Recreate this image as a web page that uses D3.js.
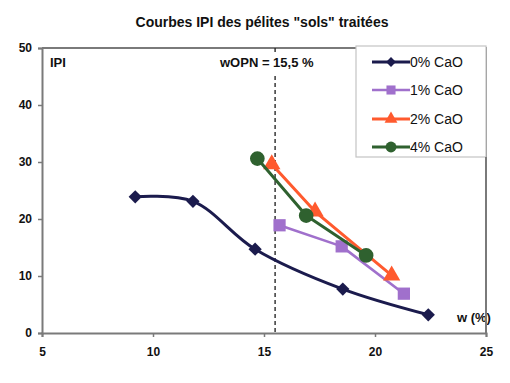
<!DOCTYPE html>
<html>
<head>
<meta charset="utf-8">
<script src="https://cdn.jsdelivr.net/npm/d3@7"></script>
<style>
  html, body { margin: 0; padding: 0; background: #fff; }
  svg { display: block; font-family: "Liberation Sans", Arial, sans-serif; }
</style>
</head>
<body>
<svg id="chart" width="510" height="383"></svg>
<script>
// Water content w (%) and IPI readings per lime dosage
const series0Name = "0% CaO";
const series0W = [9.2, 11.8, 14.6, 18.55, 22.4];
const series0IPI = [23.9, 23.1, 14.7, 7.7, 3.2];

const series1Name = "1% CaO";
const series1W = [15.7, 18.5, 21.3];
const series1IPI = [18.9, 15.2, 6.9];

const series2Name = "2% CaO";
const series2W = [15.35, 17.3, 20.75];
const series2IPI = [29.6, 21.3, 10.1];

const series4Name = "4% CaO";
const series4W = [14.7, 16.9, 19.6];
const series4IPI = [30.6, 20.6, 13.6];

const xTicks = [5, 10, 15, 20, 25];
const yTicks = [0, 10, 20, 30, 40, 50];
const wOPN = 15.5;

const titleText = "Courbes IPI des pélites \"sols\" traitées";
const yLabel = "IPI";
const xLabel = "w (%)";
const wOPNLabel = "wOPN = 15,5 %";

const svg = d3.select("#chart");
const plotLeft = 42, plotRight = 486, plotTop = 48, plotBottom = 333;

const x = d3.scaleLinear().domain([5, 25]).range([plotLeft, plotRight]);
const y = d3.scaleLinear().domain([0, 50]).range([plotBottom, plotTop]);

// title
svg.append("text")
  .attr("x", 262).attr("y", 27)
  .attr("text-anchor", "middle")
  .attr("font-size", 14).attr("font-weight", "bold")
  .attr("fill", "#111")
  .text(titleText);

const axisColor = "#7a7a7a";

// plot frame (top and right sides)
svg.append("path")
  .attr("d", `M${plotLeft},${plotTop}H${plotRight}V${plotBottom}`)
  .attr("fill", "none").attr("stroke", axisColor).attr("stroke-width", 2);

// axes
const yAxis = d3.axisLeft(y).tickValues(yTicks).tickSize(4).tickPadding(6);
const xAxis = d3.axisBottom(x).tickValues(xTicks).tickSize(4).tickPadding(10);

const gy = svg.append("g").attr("transform", `translate(${plotLeft},0)`).call(yAxis);
const gx = svg.append("g").attr("transform", `translate(0,${plotBottom})`).call(xAxis);
[gx, gy].forEach(g => {
  g.select(".domain").attr("stroke", axisColor).attr("stroke-width", 2);
  g.selectAll(".tick line").attr("stroke", axisColor).attr("stroke-width", 1.5);
  g.selectAll(".tick text")
    .attr("font-size", 12).attr("font-weight", "bold")
    .attr("font-family", "'Liberation Sans', Arial, sans-serif")
    .attr("fill", "#111");
});

// optimum water content marker
svg.append("line")
  .attr("x1", x(wOPN)).attr("x2", x(wOPN))
  .attr("y1", plotTop).attr("y2", plotBottom)
  .attr("stroke", "#2a2a2a").attr("stroke-width", 1.4)
  .attr("stroke-dasharray", "4,3");

svg.append("rect")
  .attr("x", 218).attr("y", 52).attr("width", 106).attr("height", 22)
  .attr("fill", "#fff");
svg.append("text")
  .attr("x", 220).attr("y", 67)
  .attr("font-size", 13).attr("font-weight", "bold").attr("fill", "#111")
  .text(wOPNLabel);

svg.append("text")
  .attr("x", 50).attr("y", 67)
  .attr("font-size", 13).attr("font-weight", "bold").attr("fill", "#111")
  .text(yLabel);

svg.append("text")
  .attr("x", 457).attr("y", 322)
  .attr("font-size", 13).attr("font-weight", "bold").attr("fill", "#111")
  .text(xLabel);

// series definitions (diamond = square turned 45°)
const seriesList = [
  { name: series0Name, w: series0W, v: series0IPI, color: "#1b1b4d", sym: d3.symbolSquare, rot: 45, size: 88, width: 3, curve: d3.curveCatmullRom.alpha(0.5) },
  { name: series1Name, w: series1W, v: series1IPI, color: "#a070cc", sym: d3.symbolSquare, rot: 0, size: 150, width: 2.6, curve: d3.curveLinear },
  { name: series2Name, w: series2W, v: series2IPI, color: "#ff5a2e", sym: d3.symbolTriangle, rot: 0, size: 130, width: 3, curve: d3.curveLinear },
  { name: series4Name, w: series4W, v: series4IPI, color: "#2f612f", sym: d3.symbolCircle, rot: 0, size: 170, width: 3, curve: d3.curveLinear }
];

seriesList.forEach(s => {
  const pts = s.w.map((w, i) => [w, s.v[i]]);
  const line = d3.line().x(d => x(d[0])).y(d => y(d[1])).curve(s.curve);
  svg.append("path")
    .datum(pts)
    .attr("d", line)
    .attr("fill", "none")
    .attr("stroke", s.color)
    .attr("stroke-width", s.width)
    .attr("stroke-linejoin", "round");
  svg.selectAll(null)
    .data(pts)
    .enter().append("path")
    .attr("transform", d => `translate(${x(d[0])},${y(d[1])}) rotate(${s.rot})`)
    .attr("d", d3.symbol().type(s.sym).size(s.size))
    .attr("fill", s.color);
});

// legend
const legend = svg.append("g");
legend.append("rect")
  .attr("x", 356).attr("y", 46).attr("width", 130).attr("height", 111)
  .attr("fill", "#fff").attr("stroke", "#c4c4c4").attr("stroke-width", 1.2);
// right frame edge stays visible below the legend
svg.append("line")
  .attr("x1", plotRight).attr("x2", plotRight).attr("y1", 157).attr("y2", plotBottom)
  .attr("stroke", axisColor).attr("stroke-width", 2);

const rowY = [62, 90, 119, 147];
seriesList.forEach((s, i) => {
  const g = legend.append("g").attr("transform", `translate(0,${rowY[i]})`);
  g.append("line")
    .attr("x1", 372).attr("x2", 410).attr("y1", 0).attr("y2", 0)
    .attr("stroke", s.color).attr("stroke-width", s.width);
  g.append("path")
    .attr("transform", `translate(391,0) rotate(${s.rot})`)
    .attr("d", d3.symbol().type(s.sym).size(s.size * 0.55))
    .attr("fill", s.color);
  g.append("text")
    .attr("x", 410).attr("y", 5)
    .attr("font-size", 14).attr("fill", "#111")
    .text(s.name);
});
</script>
</body>
</html>
